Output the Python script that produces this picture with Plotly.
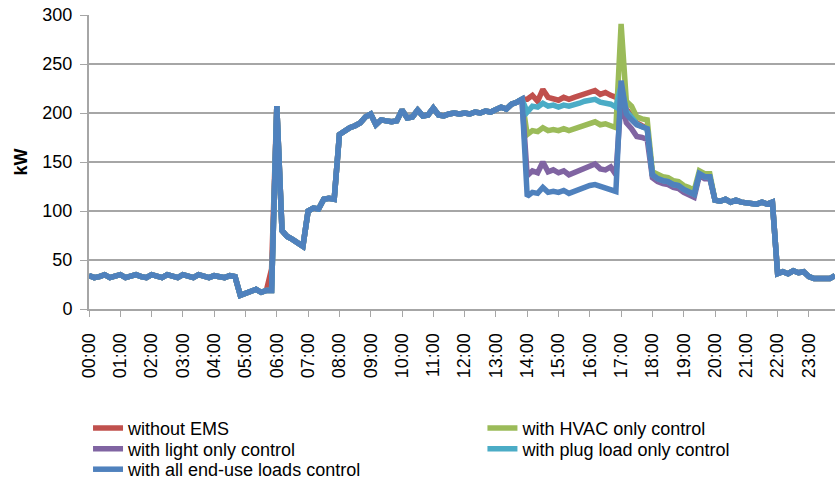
import plotly.graph_objects as go

# 10-minute time categories for one day
TIMES = [f"{h:02d}:{m:02d}" for h in range(24) for m in range(0, 60, 10)]
HOUR_TICKS = [f"{h:02d}:00" for h in range(24)]

# Shared profile 00:00 - 13:50 (all scenarios identical)
shared_morning = [
    34, 32, 33, 35, 32, 33, 35, 32, 33, 35, 33, 32, 35, 33, 32, 35, 33, 32,
    35, 33, 32, 35, 33, 32, 34, 33, 32, 34, 33,
    14, 16, 17, 20, 17, 19, 19,
    207, 80, 74, 71, 68, 64,
    100, 103, 102, 112, 113, 112,
    178, 182, 185, 187, 190, 196,
    199, 188, 193, 192, 191, 192,
    203, 195, 196, 203, 197, 198,
    205, 198, 197, 199, 200, 199,
    200, 199, 201, 200, 202, 201,
    203, 206, 204, 209, 211, 214,
]
# red (without EMS) shows a small bump at 05:50
red_morning_bump_0550 = 41

# Afternoon 14:00 - 19:50 per scenario
aft_without_ems = [
    214, 218, 212, 224, 216, 215,
    213, 216, 214, 216, 218, 220,
    222, 223, 219, 221, 218, 216,
    225, 204, 197, 190, 187, 185,
    137, 133, 131, 130, 127, 126,
    122, 120, 117, 138, 135, 135,
]
aft_hvac = [
    178, 182, 181, 185, 182, 183,
    182, 184, 182, 184, 186, 188,
    190, 191, 188, 189, 187, 185,
    291, 212, 207, 196, 194, 193,
    140, 137, 135, 134, 131, 130,
    126, 124, 121, 141, 138, 138,
]
aft_light = [
    136, 141, 139, 150, 140, 142,
    139, 141, 137, 139, 141, 144,
    146, 148, 143, 142, 145, 137,
    215, 190, 184, 176, 175, 173,
    134, 130, 128, 127, 124, 123,
    119, 117, 114, 136, 133, 133,
]
aft_plug = [
    201, 207, 206, 210, 207, 208,
    206, 208, 207, 208, 210, 212,
    213, 214, 211, 210, 209, 206,
    228, 202, 195, 189, 186, 184,
    137, 133, 131, 130, 127, 126,
    122, 120, 117, 138, 135, 135,
]
aft_all = [
    115, 119, 118, 124, 119, 120,
    119, 121, 118, 120, 122, 125,
    126, 127, 125, 124, 122, 120,
    233, 199, 193, 188, 186, 184,
    137, 133, 131, 130, 127, 126,
    122, 120, 117, 138, 135, 135,
]

# Shared evening 20:00 - 23:50
shared_evening = [
    111, 110, 112, 109, 111, 109,
    108, 108, 107, 109, 107, 109,
    36, 38, 36, 39, 37, 38,
    33, 31, 31, 32, 31, 34,
]

red_morning = shared_morning[:35] + [red_morning_bump_0550] + shared_morning[36:]

series = [
    ("without EMS", "#C0504D", red_morning + aft_without_ems + shared_evening, "legend"),
    ("with HVAC only control", "#9BBB59", shared_morning + aft_hvac + shared_evening, "legend2"),
    ("with light only control", "#8064A2", shared_morning + aft_light + shared_evening, "legend3"),
    ("with plug load only control", "#4BACC6", shared_morning + aft_plug + shared_evening, "legend4"),
    ("with all end-use loads control", "#4F81BD", shared_morning + aft_all + shared_evening, "legend5"),
]

FONT = "Liberation Sans"
GRID = "#A6A6A6"

fig = go.Figure()
for name, color, vals, lg in series:
    fig.add_trace(go.Scatter(
        x=TIMES, y=vals, mode="lines", name=name, legend=lg,
        line=dict(color=color, width=5.5),
    ))


def legend_box(xval, yval):
    return dict(
        orientation="h", x=xval, y=yval, xanchor="left", yanchor="middle",
        font=dict(family=FONT, size=18, color="black"),
        bgcolor="rgba(0,0,0,0)", itemwidth=30, borderwidth=0,
    )


COL1, COL2 = -0.0013, 0.5274
ROW1, ROW2, ROW3 = -0.4060, -0.4765, -0.5470

fig.update_layout(
    width=835, height=488, autosize=False,
    margin=dict(l=89, r=0, t=15, b=175),
    paper_bgcolor="white", plot_bgcolor="white",
    font=dict(family=FONT, size=18, color="black"),
    showlegend=True,
    legend=legend_box(COL1, ROW1),
    legend2=legend_box(COL2, ROW1),
    legend3=legend_box(COL1, ROW2),
    legend4=legend_box(COL2, ROW2),
    legend5=legend_box(COL1, ROW3),
    xaxis=dict(
        type="category", range=[0, len(TIMES) - 1], automargin=False,
        tickmode="array", tickvals=HOUR_TICKS, ticktext=HOUR_TICKS,
        tickangle=-90, ticks="outside", ticklen=6, tickcolor=GRID,
        ticklabelstandoff=9,
        showline=True, linecolor=GRID, linewidth=2,
        showgrid=False, zeroline=False,
        tickfont=dict(family=FONT, size=18, color="black"),
    ),
    yaxis=dict(
        range=[0, 300], dtick=50, tick0=0, automargin=False,
        ticks="outside", ticklen=7, tickcolor=GRID,
        ticklabelstandoff=4,
        showline=True, linecolor=GRID, linewidth=2,
        showgrid=True, gridcolor=GRID, gridwidth=1.5,
        zeroline=False,
        tickfont=dict(family=FONT, size=18, color="black"),
        title=dict(text="<b>kW</b>", font=dict(family=FONT, size=18, color="black"), standoff=10),
    ),
)

POST = (
    "document.body.style.margin='0';"
    "document.body.style.padding='0';"
    "document.body.style.overflow='hidden';"
    "var gd=document.getElementById('{plot_id}');"
    "Plotly.relayout(gd,{width:835,height:488});"
)

fig.write_html("out.html", config={"responsive": False, "displayModeBar": False}, post_script=POST)
